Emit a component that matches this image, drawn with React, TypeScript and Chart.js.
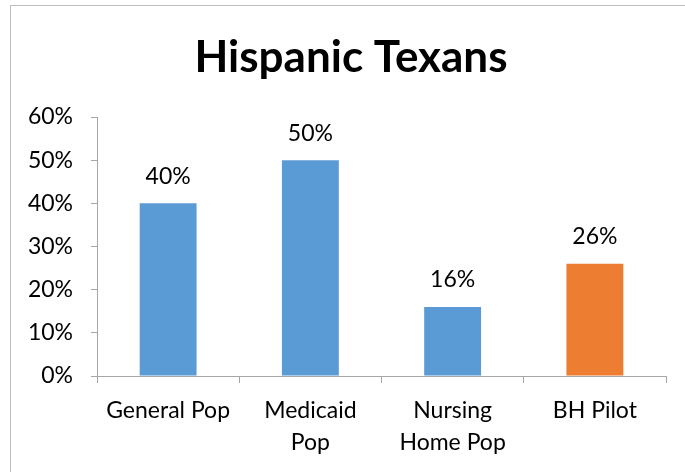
import React, { useEffect, useRef } from "react";
import { Chart, registerables } from "chart.js";

Chart.register(...registerables);

const chartTitle = "Hispanic Texans";
const categories: (string | string[])[] = [
  "General Pop",
  ["Medicaid", "Pop"],
  ["Nursing", "Home Pop"],
  "BH Pilot",
];
const shares: number[] = [0.4, 0.5, 0.16, 0.26];
const barColors: string[] = ["#5B9BD5", "#5B9BD5", "#5B9BD5", "#ED7D31"];
const yTicks: number[] = [0, 0.1, 0.2, 0.3, 0.4, 0.5, 0.6];

const FONT = "Lato, 'Open Sans', sans-serif";
const AXIS = "#a6a6a6";

const pct = (v: number) => `${Math.round(v * 100)}%`;

// Outer frame of the chart box plus the title, centred on the full box
const framePlugin = {
  id: "frame",
  beforeDraw(chart: any) {
    const ctx = chart.ctx;
    ctx.save();
    ctx.strokeStyle = "#bdbdbd";
    ctx.lineWidth = 1;
    ctx.strokeRect(10.5, 5.5, chart.width + 20, chart.height + 20);
    ctx.fillStyle = "#000";
    ctx.font = `bold 44px ${FONT}`;
    ctx.textAlign = "center";
    ctx.textBaseline = "middle";
    ctx.fillText(chartTitle, 351, 58);
    ctx.restore();
  },
};

// Value labels above each bar
const valueLabels = {
  id: "valueLabels",
  afterDatasetsDraw(chart: any) {
    const ctx = chart.ctx;
    const meta = chart.getDatasetMeta(0);
    ctx.save();
    ctx.fillStyle = "#000";
    ctx.font = `23px ${FONT}`;
    ctx.textAlign = "center";
    ctx.textBaseline = "middle";
    meta.data.forEach((bar: any, i: number) => {
      ctx.fillText(pct(shares[i]), bar.x, bar.y - 27);
    });
    ctx.restore();
  },
};

export default function App() {
  const ref = useRef<HTMLCanvasElement>(null);

  useEffect(() => {
    if (!ref.current) return;
    const chart = new Chart(ref.current, {
      type: "bar",
      data: {
        labels: categories,
        datasets: [
          {
            data: shares,
            backgroundColor: barColors,
            borderWidth: 0,
            barPercentage: 0.4,
            categoryPercentage: 1,
          },
        ],
      },
      options: {
        responsive: false,
        animation: false,
        layout: { padding: { left: 10, right: 19, top: 117, bottom: 0 } },
        plugins: {
          legend: { display: false },
          tooltip: { enabled: false },
          title: { display: false },
        },
        scales: {
          x: {
            grid: {
              drawOnChartArea: false,
              drawTicks: true,
              tickLength: 7,
              color: AXIS,
              offset: true,
            },
            border: { color: AXIS },
            ticks: {
              color: "#000",
              font: { family: FONT, size: 23, lineHeight: 1.4 },
              padding: 11,
              maxRotation: 0,
              autoSkip: false,
            },
            afterFit(scale: any) {
              scale.height = 96;
            },
          },
          y: {
            min: 0,
            max: 0.6,
            afterBuildTicks(scale: any) {
              scale.ticks = yTicks.map((v) => ({ value: v }));
            },
            grid: {
              drawOnChartArea: false,
              drawTicks: true,
              tickLength: 6,
              color: AXIS,
            },
            border: { color: AXIS },
            ticks: {
              color: "#000",
              font: { family: FONT, size: 23 },
              padding: 18,
              callback: (v: any) => pct(Number(v)),
            },
            afterFit(scale: any) {
              scale.width = 87;
            },
          },
        },
      },
      plugins: [framePlugin, valueLabels],
    });
    return () => chart.destroy();
  }, []);

  return (
    <div style={{ position: "fixed", left: 0, top: 0, width: 685, height: 472, background: "#fff" }}>
      <canvas ref={ref} width={685} height={472} style={{ display: "block" }} />
    </div>
  );
}
